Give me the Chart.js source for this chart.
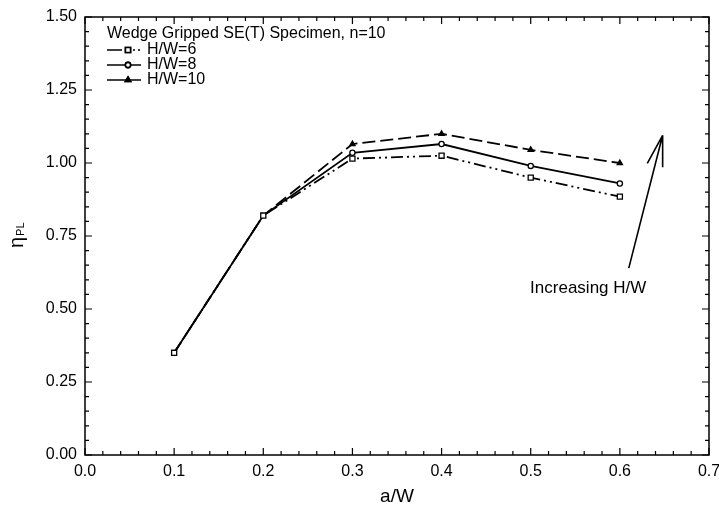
<!DOCTYPE html>
<html>
<head>
<meta charset="utf-8">
<script src="https://cdn.jsdelivr.net/npm/chart.js@4.4.1/dist/chart.umd.min.js"></script>
<style>
  html, body { margin: 0; padding: 0; background: #fff; }
  canvas { display: block; }
</style>
</head>
<body>
<canvas id="chartEta" width="719" height="511"></canvas>
<script>
// ══════════════════════════════════════
// DATA
// ══════════════════════════════════════

const aW     = [0.1, 0.2, 0.3, 0.4, 0.5, 0.6];
const eta6   = [0.35, 0.82, 1.015, 1.025, 0.95, 0.885];
const eta8   = [0.35, 0.82, 1.035, 1.065, 0.99, 0.93];
const eta10  = [0.35, 0.82, 1.065, 1.10, 1.045, 1.00];
const seriesLabels = ['H/W=6', 'H/W=8', 'H/W=10'];

const xTicks = [0, 0.1, 0.2, 0.3, 0.4, 0.5, 0.6, 0.7];
const yTicks = [0, 0.25, 0.5, 0.75, 1.0, 1.25, 1.5];

const legendTitle = 'Wedge Gripped SE(T) Specimen, n=10';
const noteText    = 'Increasing H/W';
const noteTail    = { x: 0.61,  y: 0.64 };
const noteTip     = { x: 0.648, y: 1.095 };
const noteAt      = { x: 0.5645, y: 0.57 };

const FONT = "'Liberation Sans', Arial, Helvetica, sans-serif";

// line look per series
const STYLES = [
  { dash: [12, 4, 2, 4, 2, 4], legendDash: [15, 6, 2, 3, 2, 3, 2, 100], point: 'rect',     radius: 3.6, fill: '#fff' },
  { dash: [],                  legendDash: [],                          point: 'circle',   radius: 2.6, fill: '#fff' },
  { dash: [13, 5],             legendDash: [],                          point: 'triangle', radius: 3,   fill: '#000' },
];

const seriesData = [eta6, eta8, eta10];

// ══════════════════════════════════════
// PLUGINS
// ══════════════════════════════════════

function drawMarker(ctx, st, x, y) {
  Chart.helpers.drawPoint(ctx, { pointStyle: st.point, radius: st.radius, rotation: 0, borderWidth: 1.3 }, x, y);
  ctx.fillStyle = st.fill;
  ctx.fill();
  ctx.stroke();
}

const framePlugin = {
  id: 'frame',
  afterDraw(chart) {
    const { ctx, chartArea: a, scales: { x, y } } = chart;
    ctx.save();
    ctx.strokeStyle = '#000';
    ctx.lineWidth = 1.5;
    ctx.strokeRect(a.left, a.top, a.right - a.left, a.bottom - a.top);

    ctx.lineWidth = 1.2;
    ctx.beginPath();
    // x ticks every 0.02, major every 0.1 (bottom + top, inward)
    for (let k = 0; k <= 35; k++) {
      const px = x.getPixelForValue(k * 0.02);
      const len = k % 5 === 0 ? 7 : 4;
      ctx.moveTo(px, a.bottom); ctx.lineTo(px, a.bottom - len);
      ctx.moveTo(px, a.top);    ctx.lineTo(px, a.top + len);
    }
    // y ticks every 0.05, major every 0.25 (left + right, inward)
    for (let k = 0; k <= 30; k++) {
      const py = y.getPixelForValue(k * 0.05);
      const len = k % 5 === 0 ? 7 : 4;
      ctx.moveTo(a.left, py);  ctx.lineTo(a.left + len, py);
      ctx.moveTo(a.right, py); ctx.lineTo(a.right - len, py);
    }
    ctx.stroke();

    // y title: eta with PL subscript, rotated
    ctx.fillStyle = '#000';
    ctx.translate(17, 248);
    ctx.rotate(-Math.PI / 2);
    ctx.textAlign = 'left';
    ctx.textBaseline = 'middle';
    ctx.font = '20px ' + FONT;
    ctx.fillText('η', 0, 0);
    const w = ctx.measureText('η').width;
    ctx.font = '11px ' + FONT;
    ctx.fillText('PL', w + 1, 4);
    ctx.restore();
  },
};

const legendPlugin = {
  id: 'boxLegend',
  afterDraw(chart) {
    const { ctx } = chart;
    ctx.save();
    ctx.fillStyle = '#000';
    ctx.strokeStyle = '#000';
    ctx.textAlign = 'left';
    ctx.textBaseline = 'middle';
    ctx.font = '16px ' + FONT;
    ctx.fillText(legendTitle, 107, 34);

    const rows = [50, 65, 80];
    seriesLabels.forEach((lab, i) => {
      const st = STYLES[i];
      const yy = rows[i];
      ctx.lineWidth = 1.6;
      ctx.setLineDash(st.legendDash);
      ctx.beginPath();
      ctx.moveTo(107, yy);
      ctx.lineTo(141, yy);
      ctx.stroke();
      ctx.setLineDash([]);
      drawMarker(ctx, st, 128, yy);
      ctx.fillStyle = '#000';
      ctx.font = '16px ' + FONT;
      ctx.fillText(lab, 147, yy);
    });
    ctx.restore();
  },
};

const notePlugin = {
  id: 'note',
  afterDraw(chart) {
    const { ctx, scales: { x, y } } = chart;
    const tx = x.getPixelForValue(noteTail.x), ty = y.getPixelForValue(noteTail.y);
    const hx = x.getPixelForValue(noteTip.x),  hy = y.getPixelForValue(noteTip.y);
    const ang = Math.atan2(hy - ty, hx - tx);
    const head = 32, spread = 0.25;
    ctx.save();
    ctx.strokeStyle = '#000';
    ctx.lineWidth = 1.6;
    ctx.beginPath();
    ctx.moveTo(tx, ty); ctx.lineTo(hx, hy);
    ctx.moveTo(hx, hy); ctx.lineTo(hx - head * Math.cos(ang - spread), hy - head * Math.sin(ang - spread));
    ctx.moveTo(hx, hy); ctx.lineTo(hx - head * Math.cos(ang + spread), hy - head * Math.sin(ang + spread));
    ctx.stroke();
    ctx.fillStyle = '#000';
    ctx.font = '17px ' + FONT;
    ctx.textAlign = 'center';
    ctx.textBaseline = 'middle';
    ctx.fillText(noteText, x.getPixelForValue(noteAt.x), y.getPixelForValue(noteAt.y));
    ctx.restore();
  },
};

// ══════════════════════════════════════
// CHART
// ══════════════════════════════════════

const datasets = seriesLabels.map((lab, i) => {
  const st = STYLES[i];
  return {
    label: lab,
    data: aW.map((v, j) => ({ x: v, y: seriesData[i][j] })),
    borderColor: '#000',
    borderWidth: 1.8,
    borderDash: st.dash,
    pointStyle: st.point,
    pointRadius: ctx => (i > 0 && ctx.dataIndex < 2) ? 0 : st.radius,
    pointBorderWidth: 1.3,
    pointBorderColor: '#000',
    pointBackgroundColor: st.fill,
    tension: 0,
    fill: false,
  };
});

new Chart(document.getElementById('chartEta'), {
  type: 'line',
  data: { datasets },
  plugins: [framePlugin, legendPlugin, notePlugin],
  options: {
    responsive: false,
    animation: false,
    events: [],
    layout: { padding: { top: 17, right: 10, left: 0, bottom: 0 } },
    plugins: { legend: { display: false }, tooltip: { enabled: false } },
    scales: {
      x: {
        type: 'linear',
        min: 0, max: 0.7,
        afterBuildTicks: s => { s.ticks = xTicks.map(v => ({ value: v })); },
        afterFit: s => { s.height = 56; s.paddingLeft = 0; s.paddingRight = 0; },
        grid: { display: false, drawTicks: false },
        border: { display: false },
        ticks: { callback: v => v.toFixed(1), color: '#000', font: { family: FONT, size: 16 }, padding: 7, maxRotation: 0, autoSkip: false },
        title: { display: true, text: 'a/W', color: '#000', font: { family: FONT, size: 19 }, padding: { top: 0, bottom: 3 } },
      },
      y: {
        type: 'linear',
        min: 0, max: 1.5,
        afterBuildTicks: s => { s.ticks = yTicks.map(v => ({ value: v })); },
        afterFit: s => { s.width = 85; s.paddingTop = 0; s.paddingBottom = 0; },
        grid: { display: false, drawTicks: false },
        border: { display: false },
        ticks: { callback: v => v.toFixed(2), color: '#000', font: { family: FONT, size: 16 }, padding: 8, autoSkip: false },
      },
    },
  },
});
</script>
</body>
</html>
